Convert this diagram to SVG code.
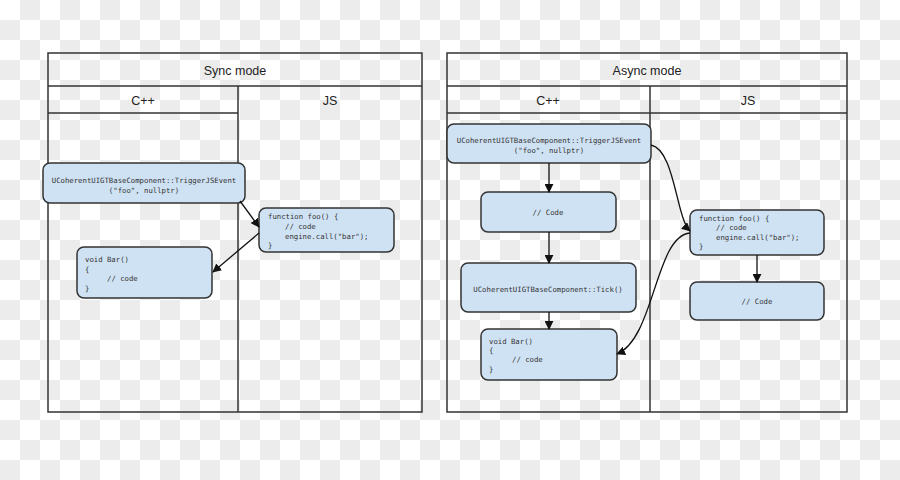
<svg xmlns="http://www.w3.org/2000/svg" width="900" height="480" viewBox="0 0 900 480">
<defs>
<pattern id="chk" width="40" height="40" patternUnits="userSpaceOnUse">
<rect width="40" height="40" fill="#ffffff"/>
<rect x="20" y="0" width="20" height="20" fill="#ececec"/>
<rect x="0" y="20" width="20" height="20" fill="#ececec"/>
</pattern>
<marker id="ah" viewBox="0 0 10 10" refX="9" refY="5" markerWidth="9" markerHeight="9" markerUnits="userSpaceOnUse" orient="auto">
<path d="M0,0 L10,5 L0,10 z" fill="#111"/>
</marker>
<style>
.frame{fill:none;stroke:#333;stroke-width:1.5}
.node{fill:#cfe2f3;stroke:#333;stroke-width:1.5}
.hd{font-family:"Liberation Sans",Arial,sans-serif;font-size:12.5px;fill:#222;text-anchor:middle}
.code{font-family:"DejaVu Sans Mono","Liberation Mono",monospace;font-size:7.3px;fill:#333}
.mid{text-anchor:middle}
.edge{fill:none;stroke:#111;stroke-width:1.3;marker-end:url(#ah)}
</style>
</defs>
<rect width="900" height="480" fill="url(#chk)"/>

<g id="sync-frame">
<rect class="frame" x="48" y="53" width="374" height="359"/>
<line class="frame" x1="48" y1="86" x2="422" y2="86"/>
<line class="frame" x1="48" y1="113" x2="238" y2="113"/>
<line class="frame" x1="238" y1="86" x2="238" y2="412"/>
<text class="hd" x="235" y="75">Sync mode</text>
<text class="hd" x="143" y="105">C++</text>
<text class="hd" x="330" y="105">JS</text>
</g>

<g id="async-frame">
<rect class="frame" x="447" y="53" width="400" height="359"/>
<line class="frame" x1="447" y1="86" x2="847" y2="86"/>
<line class="frame" x1="447" y1="113" x2="847" y2="113"/>
<line class="frame" x1="650" y1="86" x2="650" y2="412"/>
<text class="hd" x="647" y="75">Async mode</text>
<text class="hd" x="548" y="105">C++</text>
<text class="hd" x="748" y="105">JS</text>
</g>

<g id="s-trigger">
<rect class="node" x="43" y="163" width="202" height="40" rx="7"/>
<text class="code mid" x="144" y="183">UCoherentUIGTBaseComponent::TriggerJSEvent</text>
<text class="code mid" x="144" y="193">("foo", nullptr)</text>
</g>
<g id="s-foo">
<rect class="node" x="259" y="208" width="135" height="44" rx="7"/>
<text class="code" x="268" y="219">function foo() {</text>
<text class="code" x="285" y="229">// code</text>
<text class="code" x="285" y="239">engine.call("bar");</text>
<text class="code" x="268" y="248">}</text>
</g>
<g id="s-bar">
<rect class="node" x="77" y="247" width="135" height="51" rx="7"/>
<text class="code" x="85" y="262">void Bar()</text>
<text class="code" x="85" y="272">{</text>
<text class="code" x="107" y="281">// code</text>
<text class="code" x="85" y="291">}</text>
</g>

<g id="a-trigger">
<rect class="node" x="447" y="124" width="204" height="39" rx="7"/>
<text class="code mid" x="549" y="143">UCoherentUIGTBaseComponent::TriggerJSEvent</text>
<text class="code mid" x="549" y="153">("foo", nullptr)</text>
</g>
<g id="a-code">
<rect class="node" x="481" y="192" width="135" height="40" rx="7"/>
<text class="code mid" x="548" y="215">// Code</text>
</g>
<g id="a-tick">
<rect class="node" x="461" y="263" width="175" height="49" rx="7"/>
<text class="code mid" x="548" y="292">UCoherentUIGTBaseComponent::Tick()</text>
</g>
<g id="a-bar">
<rect class="node" x="481" y="329" width="136" height="51" rx="7"/>
<text class="code" x="489" y="344">void Bar()</text>
<text class="code" x="489" y="353">{</text>
<text class="code" x="512" y="362">// code</text>
<text class="code" x="489" y="372">}</text>
</g>
<g id="a-foo">
<rect class="node" x="690" y="210" width="134" height="45" rx="7"/>
<text class="code" x="699" y="221">function foo() {</text>
<text class="code" x="716" y="230">// code</text>
<text class="code" x="716" y="240">engine.call("bar");</text>
<text class="code" x="699" y="249">}</text>
</g>
<g id="a-jscode">
<rect class="node" x="690" y="282" width="134" height="38" rx="7"/>
<text class="code mid" x="757" y="304">// Code</text>
</g>

<g id="connectors">
<path class="edge" d="M240,201 L259,227"/>
<path class="edge" d="M259,233 L213,272"/>
<path class="edge" d="M549,163 L549,192"/>
<path class="edge" d="M549,232 L549,263"/>
<path class="edge" d="M549,312 L549,329"/>
<path class="edge" d="M651,145 C675,150 676,218 690,231"/>
<path class="edge" d="M690,233 C655,236 655,338 617,354"/>
<path class="edge" d="M757,255 L757,282"/>
</g>
</svg>
